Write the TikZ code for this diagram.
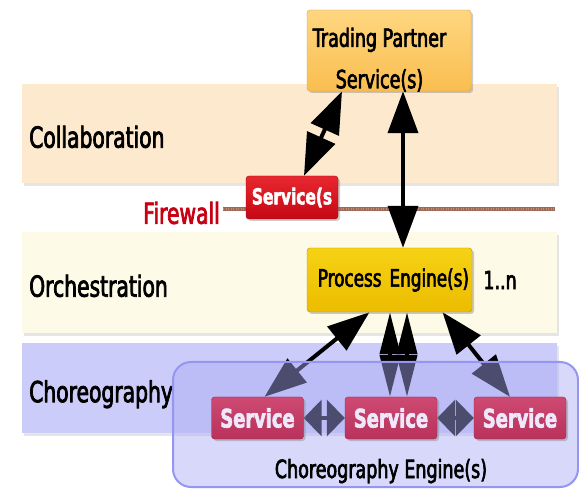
\documentclass[tikz,border=0pt]{standalone}
\usepackage{fontspec}
\setmainfont{DejaVu Sans}[FakeStretch=0.7, FakeBold=2.5]
\usepackage{tikz}
\usetikzlibrary{positioning}
\usetikzlibrary{arrows.meta}
\usetikzlibrary{shadows}
\usepackage{xcolor}

\definecolor{collabfill}{RGB}{252,233,206}
\definecolor{orchfill}{RGB}{253,251,231}
\definecolor{choreofill}{RGB}{204,204,250}
\definecolor{enginefill}{RGB}{170,170,245}
\definecolor{engineline}{RGB}{150,150,240}
\definecolor{partnertop}{RGB}{254,214,128}
\definecolor{partnerbot}{RGB}{250,190,80}
\definecolor{processtop}{RGB}{246,210,20}
\definecolor{processbot}{RGB}{236,188,0}
\definecolor{fwtop}{RGB}{232,40,48}
\definecolor{fwbot}{RGB}{196,8,20}
\definecolor{svctop}{RGB}{206,74,114}
\definecolor{svcbot}{RGB}{184,50,92}
\definecolor{svctext}{RGB}{238,232,250}
\definecolor{firered}{RGB}{200,0,20}
\definecolor{wallbrown}{RGB}{158,106,88}
\definecolor{walllight}{RGB}{190,140,120}

\pgfdeclarelayer{bands}
\pgfdeclarelayer{links}
\pgfdeclarelayer{engine}
\pgfsetlayers{bands,links,engine,main}

\begin{document}
\begin{tikzpicture}[x=1pt, y=-1pt,
  band/.style={rectangle, anchor=north west, inner xsep=7pt, text width=521pt, align=left,
    text height=28pt, text depth=0pt,
    drop shadow={shadow xshift=2pt, shadow yshift=-3pt, opacity=0.2},
    font=\fontsize{29}{33}\selectfont},
  box/.style={rectangle, rounded corners=3pt,
    drop shadow={shadow xshift=2pt, shadow yshift=-2pt, opacity=0.4}},
  tpbox/.style={box, top color=partnertop, bottom color=partnerbot, draw=partnerbot!85!black, thin,
    minimum width=164pt, minimum height=81pt},
  tplabel/.style={anchor=base, xshift=-9.5pt, font=\fontsize{25}{28}\selectfont},
  fwbox/.style={box, top color=fwtop, bottom color=fwbot, draw=fwbot!80!black, thin,
    minimum width=92pt, minimum height=43pt, text=white,
    font=\fontsize{22}{25}\selectfont\bfseries},
  pebox/.style={box, top color=processtop, bottom color=processbot, draw=processbot!80!black, thin,
    text width=159pt, align=right, inner xsep=3pt, minimum height=64pt,
    font=\fontsize{24}{27}\selectfont},
  svcbox/.style={box, top color=svctop, bottom color=svcbot, draw=svcbot!85!black, thin,
    minimum width=92pt, minimum height=42pt, text=svctext,
    font=\fontsize{25.5}{28}\selectfont\bfseries},
  link/.style={line width=4pt, {Triangle[length=42pt,width=30pt]}-{Triangle[length=42pt,width=30pt]}},
  pairlink/.style={line width=4pt, {Triangle[length=42pt,width=20pt]}-{Triangle[length=42pt,width=20pt]}},
  peer/.style={line width=4pt, {Triangle[length=18pt,width=36pt]}-{Triangle[length=18pt,width=36pt]}},
  wall/.style={line width=4.5pt, draw=wallbrown,
    postaction={draw=walllight, line width=2pt, dash pattern=on 1pt off 1.5pt}}
]

\begin{pgfonlayer}{bands}
\useasboundingbox[fill=white] (0,0) rectangle (579,489);

% layers
\node[band, fill=collabfill, minimum height=99pt] (collab) at (22,84) {Collaboration};
\node[band, fill=orchfill, minimum height=101pt] (orch) at (22,232) {Orchestration};
\node[band, fill=choreofill, minimum height=90pt] (choreo) at (22,343) {Choreography};

% firewall
\node[anchor=east, inner sep=1pt, text=firered, font=\fontsize{29}{33}\selectfont] (firewall) at (221,213) {Firewall};
\coordinate (wallend) at (555,209);
\draw[wall] ([xshift=2pt, yshift=4pt]firewall.east) -- (wallend);
\end{pgfonlayer}

% boxes
\node[tpbox,
  label={[tplabel, yshift=-37pt]north:Trading Partner},
  label={[tplabel, yshift=3pt]south:Service(s)}] (partner) at (389,50.5) {};
\node[fwbox] (fwsvc) at (292,197.5) {Service(s};
\node[pebox] (process) at (389.5,280) {Process Engine(s)};
\node[right=9pt of process, inner sep=2pt, font=\fontsize{25}{28}\selectfont] (mult) {1..n};

\node[svcbox] (svcA) at (257.5,418) {Service};
\node[svcbox] (svcB) at (391,418) {Service};
\node[svcbox] (svcC) at (520,418) {Service};

% arrows
\begin{pgfonlayer}{links}
\draw[link] ([xshift=-47pt]partner.south) -- ([xshift=12pt]fwsvc.north);
\draw[link] ([xshift=14pt]partner.south) -- ([xshift=13.5pt]process.north);

\draw[link] ([xshift=-20pt]process.south) -- ([xshift=7pt]svcA.north);
\draw[pairlink] ([xshift=0.5pt]process.south) -- ([xshift=-1pt]svcB.north);
\draw[pairlink] ([xshift=17.5pt]process.south) -- ([xshift=16pt]svcB.north);
\draw[link] ([xshift=53pt]process.south) -- ([xshift=-10pt]svcC.north);

\draw[peer] (svcA) -- (svcB);
\draw[peer] (svcB) -- (svcC);
\end{pgfonlayer}

% choreography engine
\begin{pgfonlayer}{engine}
\node[rectangle, rounded corners=18pt, fill=enginefill, fill opacity=0.45,
  draw=engineline, line width=2pt, minimum width=405pt, minimum height=125pt,
  label={[anchor=base, yshift=10pt, xshift=5.5pt, text opacity=1,
    font=\fontsize{25}{28}\selectfont]south:Choreography Engine(s)}] (engine) at (375.5,424.5) {};
\end{pgfonlayer}

\end{tikzpicture}
\end{document}
